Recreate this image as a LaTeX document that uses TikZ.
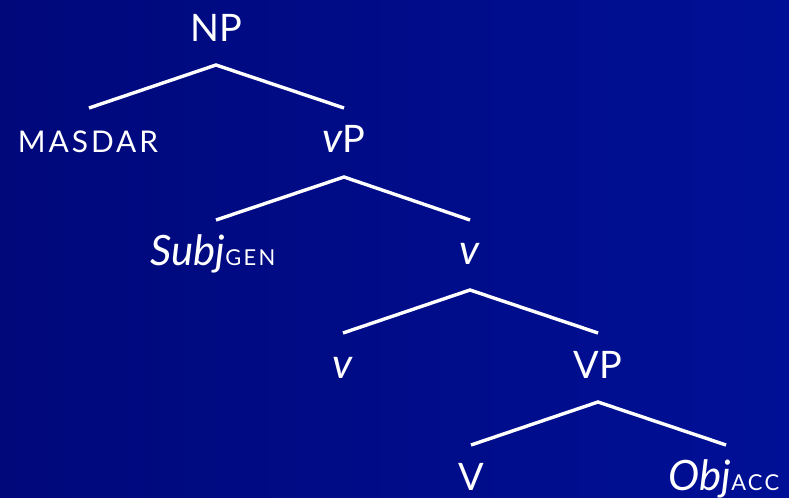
\documentclass[tikz,border=0pt]{standalone}
\usepackage{fontspec}
\setmainfont{Lato}
\newfontfamily\capsfont[LetterSpace=10]{Lato}
\definecolor{bgleft}{RGB}{0,8,122}
\definecolor{bgright}{RGB}{0,16,150}
\begin{document}
\begin{tikzpicture}[x=1bp,y=-1bp,
  lbl/.style={text=white,anchor=base,inner sep=0pt,font=\fontsize{38}{40}\selectfont},
  ital/.style={lbl,font=\fontsize{42}{44}\selectfont\itshape},
  branch/.style={draw=white,line width=3.4bp}]
  % background
  \shade[left color=bgleft,right color=bgright] (0,0) rectangle (789,498);
  \useasboundingbox (0,0) rectangle (789,498);
  % labels
  \node[lbl]  (np)     at (216,42)  {NP};
  \node[lbl]  (masdar) at (88,153)  {\capsfont\fontsize{30}{30}\selectfont MASDAR};
  \node[lbl]  (vp)     at (344,153) {{\fontsize{42}{44}\selectfont\itshape v}P};
  \node[ital] (subj)   at (213,266) {Subj{\upshape\capsfont\fontsize{22}{22}\selectfont GEN}};
  \node[ital] (vbar)   at (470,265) {v};
  \node[ital] (vhead)  at (343,378) {v};
  \node[lbl]  (bigvp)  at (598,378) {VP};
  \node[lbl]  (verb)   at (471,490) {V};
  \node[ital] (obj)    at (724,490) {Obj{\upshape\capsfont\fontsize{22}{22}\selectfont ACC}};
  % branches
  \draw[branch] ([xshift=1bp,yshift=45bp]masdar.base) -- ([yshift=-23bp]np.base) -- ([yshift=45bp]vp.base);
  \draw[branch] ([xshift=3bp,yshift=46bp]subj.base) -- ([yshift=-24bp]vp.base) -- ([yshift=45bp]vbar.base);
  \draw[branch] ([yshift=45bp]vhead.base) -- ([yshift=-25bp]vbar.base) -- ([yshift=45bp]bigvp.base);
  \draw[branch] ([yshift=45bp]verb.base) -- ([yshift=-24bp]bigvp.base) -- ([xshift=2bp,yshift=45bp]obj.base);
\end{tikzpicture}
\end{document}
